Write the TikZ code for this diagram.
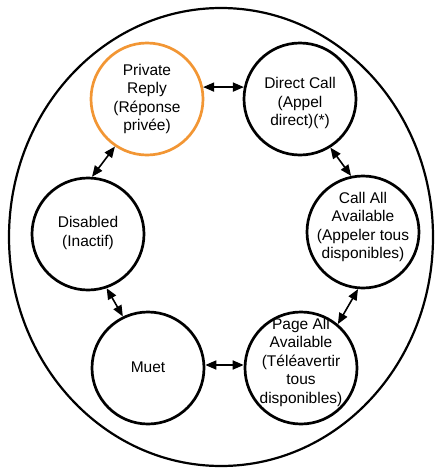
\documentclass[tikz,border=0pt]{standalone}
\usepackage{fontspec}
\setmainfont{Liberation Sans}
\usetikzlibrary{arrows.meta}
\definecolor{orng}{RGB}{242,150,52}
\begin{document}
\begin{tikzpicture}[x=1pt,y=-1pt,
  state/.style={circle,draw=black,line width=2.7pt,minimum size=112pt,inner sep=0pt},
  txt/.style={align=center,font=\fontsize{15.5}{18.5}\selectfont,inner sep=0pt},
  link/.style={line width=1.6pt,{Triangle[length=11pt,width=9pt]}-{Triangle[length=11pt,width=9pt]}}]
\useasboundingbox (0,0) rectangle (440,469);
\draw[line width=2.2pt] (221,237) ellipse [x radius=212, y radius=229];
\node[state,draw=orng] (pr) at (147,99) {};
\node[state] (dc) at (300,99) {};
\node[state] (ds) at (88,234) {};
\node[state] (ca) at (363,232) {};
\node[state] (mu) at (148,368) {};
\node[state] (pa) at (301,368) {};
\node[txt] (prt) at (147,99) {Private\\Reply\\(Réponse\\privée)};
\node[txt] (dct) at (300,103) {Direct Call\\(Appel\\direct)(*)};
\node[txt] (dst) at (88,233) {Disabled\\(Inactif)};
\node[txt] (cat) at (363,227) {Call All\\Available\\(Appeler tous\\disponibles)};
\node[txt] (mut) at (148,367) {Muet};
\node[txt] (pat) at (301,362) {Page All\\Available\\(Téléavertir\\tous\\disponibles)};
\draw[link] (pr.12) -- (dc.168);
\draw[link] (pr.236) -- (ds.86);
\draw[link] (dc.302) -- (ca.102);
\draw[link] (ds.289) -- (mu.116);
\draw[link] (ca.265) -- (pa.50);
\draw[link] (mu.3) -- (pa.177);
\end{tikzpicture}
\end{document}
